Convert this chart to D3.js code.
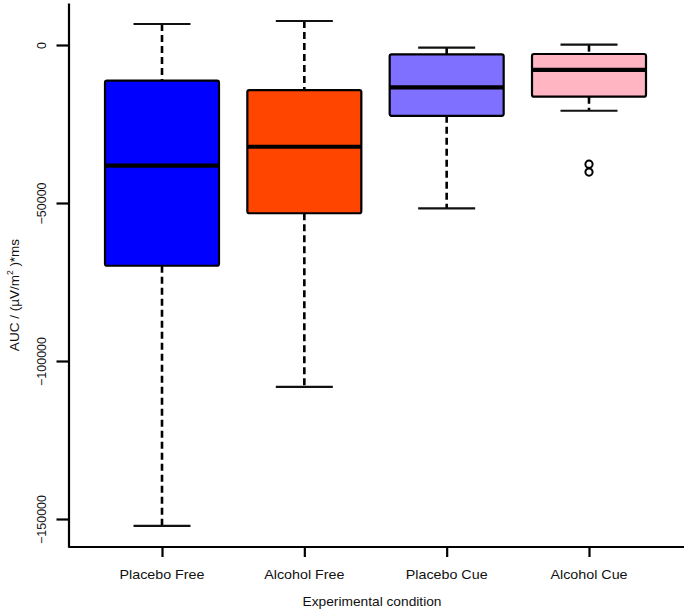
<!DOCTYPE html>
<html>
<head>
<meta charset="utf-8">
<script src="https://cdn.jsdelivr.net/npm/d3@7"></script>
<style>
  html, body { margin: 0; padding: 0; background: #fff; }
  svg { display: block; }
  text { font-family: "Liberation Sans", Arial, sans-serif; fill: #111; }
</style>
</head>
<body>
<svg id="chart" width="685" height="613"></svg>
<script>
// ---- data ----
const categories = ["Placebo Free", "Alcohol Free", "Placebo Cue", "Alcohol Cue"];
const whiskerHigh = [6650, 7600, -850, 100];
const q3Values    = [-11300, -14250, -2950, -2850];
const medians     = [-38200, -32200, -13400, -7900];
const q1Values    = [-69850, -53250, -22400, -16350];
const whiskerLow  = [-152200, -108200, -51700, -20800];
const outlierCategory = ["Alcohol Cue", "Alcohol Cue"];
const outlierValues   = [-37700, -40200];
const fillColors  = ["#0000ff", "#ff4500", "#7f70ff", "#ffb5c2"];
const yTickValues = [0, -50000, -100000, -150000];

const svg = d3.select("#chart");
const yTop = 3, yBottom = 547, xLeft = 68.5, xRight = 684;

const y = d3.scaleLinear()
  .domain([-158860, 13290])
  .range([yBottom, yTop]);
const x = d3.scalePoint()
  .domain(categories)
  .range([162, 589]);

const boxW = 114, capW = 57;

// axes
const yAxis = svg.append("g")
  .attr("transform", `translate(${xLeft},0)`)
  .call(d3.axisLeft(y).tickValues(yTickValues).tickSize(12).tickSizeOuter(0).tickFormat(d3.format("d")));
yAxis.select(".domain").attr("stroke", "#000").attr("stroke-width", 2.2);
yAxis.selectAll(".tick line").attr("stroke", "#000").attr("stroke-width", 2.2);
yAxis.selectAll(".tick text")
  .attr("x", 0).attr("dy", 0)
  .attr("transform", "translate(-27,0) rotate(-90)")
  .attr("text-anchor", "middle")
  .attr("dominant-baseline", "central")
  .style("font-size", "12.5px")
  .style("font-family", "'Liberation Sans', Arial, sans-serif")
  .attr("fill", "#111");

const xAxisG = svg.append("g")
  .attr("transform", `translate(0,${yBottom})`)
  .call(d3.axisBottom(x).tickSize(10).tickSizeOuter(0).tickFormat(""));
xAxisG.select(".domain").attr("d", `M${xLeft},0H${xRight}`).attr("stroke", "#000").attr("stroke-width", 2.2);
xAxisG.selectAll(".tick line").attr("stroke", "#000").attr("stroke-width", 2.2);

// x labels
svg.append("g").selectAll("text").data(categories).join("text")
  .attr("transform", d => `translate(${x(d)},579) scale(1.1,1)`)
  .attr("text-anchor", "middle")
  .style("font-size", "13px")
  .text(d => d);

// titles
svg.append("text")
  .attr("transform", "translate(372,606) scale(1.1,1)")
  .attr("text-anchor", "middle")
  .style("font-size", "12.5px")
  .text("Experimental condition");

const yt = svg.append("text")
  .attr("transform", "translate(14,295) rotate(-90)")
  .attr("text-anchor", "middle")
  .attr("dominant-baseline", "central")
  .style("font-size", "13.5px");
yt.append("tspan").text("AUC / (\u00b5V/m");
yt.append("tspan").attr("dy", -4).style("font-size", "8.5px").text("2");
yt.append("tspan").attr("dy", 4).text(" )*ms");

// boxes
const data = categories.map((c, i) => ({
  c, hi: whiskerHigh[i], q3: q3Values[i], med: medians[i], q1: q1Values[i], lo: whiskerLow[i], fill: fillColors[i]
}));

const g = svg.append("g").selectAll("g").data(data).join("g");

// whiskers (dashed)
g.append("line")
  .attr("x1", d => x(d.c)).attr("x2", d => x(d.c))
  .attr("y1", d => y(d.hi)).attr("y2", d => y(d.q3))
  .attr("stroke", "#000").attr("stroke-width", 2.6).attr("stroke-dasharray", "7,4");
g.append("line")
  .attr("x1", d => x(d.c)).attr("x2", d => x(d.c))
  .attr("y1", d => y(d.q1)).attr("y2", d => y(d.lo))
  .attr("stroke", "#000").attr("stroke-width", 2.6).attr("stroke-dasharray", "7,4");
// caps
g.append("line")
  .attr("x1", d => x(d.c) - capW / 2).attr("x2", d => x(d.c) + capW / 2)
  .attr("y1", d => y(d.hi)).attr("y2", d => y(d.hi))
  .attr("stroke", "#111").attr("stroke-width", 2.2);
g.append("line")
  .attr("x1", d => x(d.c) - capW / 2).attr("x2", d => x(d.c) + capW / 2)
  .attr("y1", d => y(d.lo)).attr("y2", d => y(d.lo))
  .attr("stroke", "#111").attr("stroke-width", 2.2);
// box
g.append("rect")
  .attr("x", d => x(d.c) - boxW / 2).attr("width", boxW)
  .attr("y", d => y(d.q3)).attr("height", d => y(d.q1) - y(d.q3))
  .attr("rx", 2)
  .attr("fill", d => d.fill)
  .attr("stroke", "#000").attr("stroke-width", 2.2);
// median
g.append("line")
  .attr("x1", d => x(d.c) - boxW / 2).attr("x2", d => x(d.c) + boxW / 2)
  .attr("y1", d => y(d.med)).attr("y2", d => y(d.med))
  .attr("stroke", "#000").attr("stroke-width", 4.2);

// outliers
svg.append("g").selectAll("circle").data(outlierValues).join("circle")
  .attr("cx", (d, i) => x(outlierCategory[i]))
  .attr("cy", d => y(d))
  .attr("r", 3.6)
  .attr("fill", "none")
  .attr("stroke", "#000").attr("stroke-width", 2);
</script>
</body>
</html>
